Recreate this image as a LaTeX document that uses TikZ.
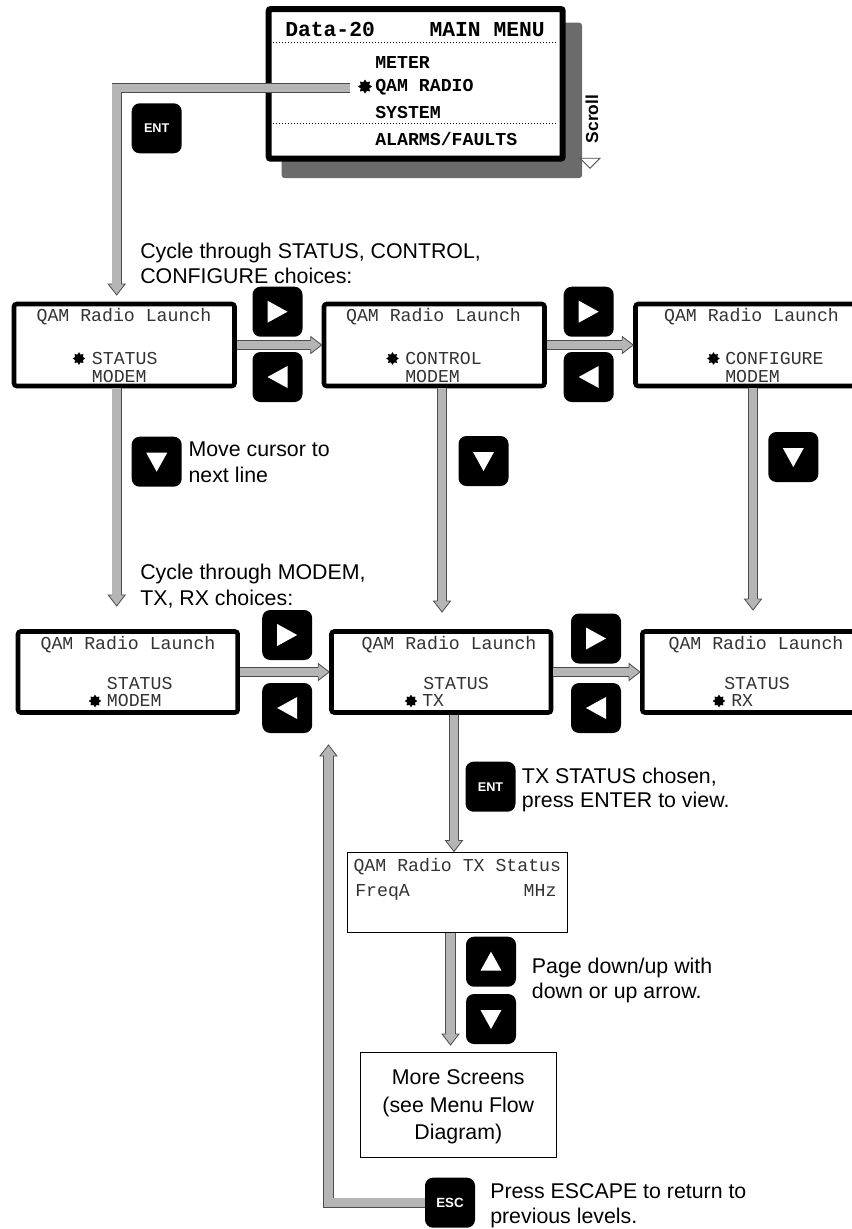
\documentclass[tikz,border=0pt]{standalone}
\usepackage{fontspec}
\setmainfont{Liberation Sans}
\newfontfamily\monofam{Liberation Mono}
\usetikzlibrary{calc,fit,shapes.geometric}
% white key triangles
\newcommand\keyTriR[1]{\fill[white] ($(#1)+(-10,-11)$) -- ($(#1)+(10,0)$) -- ($(#1)+(-10,11)$) -- cycle;}
\newcommand\keyTriL[1]{\fill[white] ($(#1)+(10,-11)$) -- ($(#1)+(-10,0)$) -- ($(#1)+(10,11)$) -- cycle;}
\newcommand\keyTriD[1]{\fill[white] ($(#1)+(-10.5,-9)$) -- ($(#1)+(10.5,-9)$) -- ($(#1)+(0,10)$) -- cycle;}
\newcommand\keyTriU[1]{\fill[white] ($(#1)+(-10.5,9)$) -- ($(#1)+(10.5,9)$) -- ($(#1)+(0,-10)$) -- cycle;}
% heads of the fat grey connectors
\newcommand\fatHeadD[1]{%
 \fill[headfill] ($(#1)+(-8.5,-11)$) -- (#1) -- ($(#1)+(8.5,-11)$) -- cycle;
 \draw[headline] ($(#1)+(-4.7,-11)$) -- ($(#1)+(-8.5,-11)$) -- (#1) -- ($(#1)+(8.5,-11)$) -- ($(#1)+(4.7,-11)$);}
\newcommand\fatHeadU[1]{%
 \fill[headfill] ($(#1)+(-8.5,11)$) -- (#1) -- ($(#1)+(8.5,11)$) -- cycle;
 \draw[headline] ($(#1)+(-4.7,11)$) -- ($(#1)+(-8.5,11)$) -- (#1) -- ($(#1)+(8.5,11)$) -- ($(#1)+(4.7,11)$);}
\newcommand\fatHeadR[1]{%
 \fill[headfill] ($(#1)+(-11,-8.5)$) -- (#1) -- ($(#1)+(-11,8.5)$) -- cycle;
 \draw[headline] ($(#1)+(-11,-4.7)$) -- ($(#1)+(-11,-8.5)$) -- (#1) -- ($(#1)+(-11,8.5)$) -- ($(#1)+(-11,4.7)$);}
\begin{document}
\begin{tikzpicture}[x=0.75pt,y=-0.75pt,
  lcd/.style={draw=black, line width=3.4pt, rounded corners=2pt, inner sep=0pt, fill=white},
  thinbox/.style={draw=black, line width=0.75pt, inner sep=0pt, fill=white},
  menubox/.style={draw=black, line width=4.5pt, rounded corners=1.5pt, inner sep=0pt, fill=white},
  shadowbox/.style={fill=black!58, rounded corners=2pt, inner sep=0pt},
  btn/.style={fill=black, rounded corners=6pt, minimum size=37.5pt, inner sep=0pt},
  keytxt/.style={text=white, font=\bfseries\fontsize{9.5}{11}\selectfont},
  note/.style={anchor=base west, inner sep=0pt, font=\fontsize{16}{19}\selectfont},
  boxnote/.style={anchor=base, inner sep=0pt, font=\fontsize{16}{19}\selectfont},
  lcdtxt/.style={anchor=base west, inner sep=0pt, text=black!80, font=\monofam\fontsize{13.65}{16}\selectfont},
  menutxt/.style={anchor=base west, inner sep=0pt, font=\monofam\bfseries\fontsize{13.65}{16}\selectfont},
  titletxt/.style={anchor=base west, inner sep=0pt, font=\monofam\bfseries\fontsize{16}{18}\selectfont},
  cursor/.style={star, star points=8, star point ratio=1.5, fill=black, inner sep=0pt, minimum size=9.5pt},
  fat/.style={draw=black!70, line width=0.6pt, double=black!29, double distance=6.4pt},
  headfill/.style={fill=black!29},
  headline/.style={draw=black!70, line width=0.6pt, line join=miter},
  dotline/.style={line width=0.9pt, dash pattern=on 0.9pt off 1.35pt},
]
\useasboundingbox (0,0) rectangle (852,1229);
\fill[white] (0,0) rectangle (852,1229);
\clip (0,0) rectangle (852,1229);

% ---------- main menu ----------
\node[shadowbox, fit={(281.7,22.7)(582,178)}] (menushadow) {};
\node[menubox, fit={(268.7,9)(562.7,158.7)}] (menu) {};
\draw[dotline] (273,42.7) -- (557,42.7);
\draw[dotline] (273,123.3) -- (557,123.3);
\node[titletxt] (mt1) at (285,36.7) {Data-20};
\node[titletxt, anchor=base east] (mt2) at (545,36.7) {MAIN MENU};
\node[menutxt] (mi1) at (375,68.3) {METER};
\node[menutxt] (mi2) at (375,91) {QAM RADIO};
\node[menutxt] (mi3) at (375,118) {SYSTEM};
\node[menutxt] (mi4) at (375,145) {ALARMS/FAULTS};
\node[cursor, minimum size=10.5pt] (mstar) at (365,86.5) {};
\node[rotate=90, inner sep=0pt, font=\bfseries\fontsize{13}{15}\selectfont] (scroll) at (592,119) {Scroll};
\draw[draw=black!70, fill=white, line width=0.6pt] (580,158.3) -- (600,158.3) -- (590,168.3) -- cycle;

\node[btn, keytxt] (ent1) at (156.7,128.3) {ENT};

% ---------- row 1 ----------
\node[lcd, fit={(14,304)(234.5,386)}] (ra) {};
\node[lcd, fit={(324,304)(544.5,386)}] (rb) {};
\node[lcd, fit={(635.5,304)(880,386)}] (rc) {};
\node[lcdtxt, anchor=base] (ra1) at (124,321) {QAM Radio Launch};
\node[cursor] (ras) at (79,358.5) {};
\node[lcdtxt] (ra2) at (91.7,364) {STATUS};
\node[lcdtxt] (ra3) at (91.7,382) {MODEM};
\node[lcdtxt, anchor=base] (rb1) at (433.5,321) {QAM Radio Launch};
\node[cursor] (rbs) at (392.5,358.5) {};
\node[lcdtxt] (rb2) at (405,364) {CONTROL};
\node[lcdtxt] (rb3) at (405,382) {MODEM};
\node[lcdtxt, anchor=base] (rc1) at (751.5,321) {QAM Radio Launch};
\node[cursor] (rcs) at (713.5,358.5) {};
\node[lcdtxt] (rc2) at (725,364) {CONFIGURE};
\node[lcdtxt] (rc3) at (725,382) {MODEM};

\node[btn] (k1r) at (277.5,311.7) {}; \keyTriR{k1r}
\node[btn] (k1l) at (277.5,377) {};   \keyTriL{k1l}
\node[btn] (k2r) at (588.7,311.7) {}; \keyTriR{k2r}
\node[btn] (k2l) at (588.7,377) {};   \keyTriL{k2l}

% ---------- row 2 ----------
\node[lcd, fit={(18,631.5)(237.7,712.5)}] (rd) {};
\node[lcd, fit={(331.5,631.5)(551,712.5)}] (re) {};
\node[lcd, fit={(642.3,631.5)(880,712.5)}] (rf) {};
\node[lcdtxt, anchor=base] (rd1) at (128,649) {QAM Radio Launch};
\node[lcdtxt] (rd2) at (106.7,689) {STATUS};
\node[cursor] (rds) at (95,701) {};
\node[lcdtxt] (rd3) at (106.7,706.7) {MODEM};
\node[lcdtxt, anchor=base] (re1) at (449,649) {QAM Radio Launch};
\node[lcdtxt] (re2) at (423,689) {STATUS};
\node[cursor] (res) at (411,701) {};
\node[lcdtxt] (re3) at (422,706.7) {TX};
\node[lcdtxt, anchor=base] (rf1) at (756,649) {QAM Radio Launch};
\node[lcdtxt] (rf2) at (724,689) {STATUS};
\node[cursor] (rfs) at (719,701) {};
\node[lcdtxt] (rf3) at (731,706.7) {RX};

\node[btn] (k3r) at (287.2,635) {}; \keyTriR{k3r}
\node[btn] (k3l) at (287.2,708) {}; \keyTriL{k3l}
\node[btn] (k4r) at (596,638.5) {}; \keyTriR{k4r}
\node[btn] (k4l) at (596,708) {};   \keyTriL{k4l}

% down keys between rows
\node[btn] (kd1) at (156.7,461.7) {}; \keyTriD{kd1}
\node[btn] (kd2) at (483.5,461) {};   \keyTriD{kd2}
\node[btn] (kd3) at (793.3,457) {};   \keyTriD{kd3}

% ---------- lower part ----------
\node[btn, keytxt] (ent2) at (490.5,786.7) {ENT};
\node[thinbox, fit={(347.8,852.2)(567.8,932.2)}] (tx) {};
\node[lcdtxt] (tx1) at (353.3,871) {QAM Radio TX Status};
\node[lcdtxt] (tx2) at (355,896.5) {FreqA};
\node[lcdtxt, anchor=base east] (tx3) at (556.7,896.5) {MHz};
\node[btn] (ku) at (491,961.7) {}; \keyTriU{ku}
\node[btn] (kd) at (491,1019) {};  \keyTriD{kd}
\node[thinbox, fit={(360.4,1052)(556.3,1157)}] (more) {};
\node[boxnote] (mo1) at (458.3,1084) {More Screens};
\node[boxnote] (mo2) at (458.3,1112) {(see Menu Flow};
\node[boxnote] (mo3) at (458.3,1139) {Diagram)};
\node[btn, keytxt, font=\bfseries\fontsize{10}{12}\selectfont] (esc) at (450,1202.7) {ESC};

% ---------- notes ----------
\node[note] (n1a) at (140,258) {Cycle through STATUS, CONTROL,};
\node[note] (n1b) at (140,283.3) {CONFIGURE choices:};
\node[note] (n2a) at (188.3,456.7) {Move cursor to};
\node[note] (n2b) at (188.3,482.7) {next line};
\node[note] (n3a) at (140,579) {Cycle through MODEM,};
\node[note] (n3b) at (140,605) {TX, RX choices:};
\node[note] (n4a) at (521.7,783) {TX STATUS chosen,};
\node[note] (n4b) at (521.7,807) {press ENTER to view.};
\node[note] (n5a) at (531.7,973) {Page down/up with};
\node[note] (n5b) at (531.7,998) {down or up arrow.};
\node[note] (n6a) at (490,1198) {Press ESCAPE to return to};
\node[note] (n6b) at (490,1223) {previous levels.};

% ---------- connectors ----------
\coordinate (m0) at (350,88);
\coordinate (m1) at (116.7,88);
\coordinate (tA0) at (116.7,295);
\draw[fat] (m0) -- (m1) -- ($(tA0)+(0,-10)$); \fatHeadD{tA0}

\draw[fat] (ra.east) -- ($(rb.west)+(-10,0)$); \fatHeadR{rb.west}
\draw[fat] (rb.east) -- ($(rc.west)+(-10,0)$); \fatHeadR{rc.west}
\draw[fat] (rd.east) -- ($(re.west)+(-10,0)$); \fatHeadR{re.west}
\draw[fat] (re.east) -- ($(rf.west)+(-10,0)$); \fatHeadR{rf.west}

\coordinate (tA) at (116.7,606);
\coordinate (tB) at (442,612);
\coordinate (tC) at (753,610);
\draw[fat] (tA |- ra.south) -- ($(tA)+(0,-10)$); \fatHeadD{tA}
\draw[fat] (tB |- rb.south) -- ($(tB)+(0,-10)$); \fatHeadD{tB}
\draw[fat] (tC |- rc.south) -- ($(tC)+(0,-10)$); \fatHeadD{tC}

\coordinate (tD) at (454,851.5);
\draw[fat] (tD |- re.south) -- ($(tD)+(0,-10)$); \fatHeadD{tD}
\coordinate (tF) at (450.5,1045);
\draw[fat] (tF |- tx.south) -- ($(tF)+(0,-10)$); \fatHeadD{tF}

\coordinate (e1) at (328.5,1202.7);
\coordinate (tE) at (328.5,745);
\draw[fat] (esc.west) -- (e1) -- ($(tE)+(0,10)$); \fatHeadU{tE}
\end{tikzpicture}
\end{document}
